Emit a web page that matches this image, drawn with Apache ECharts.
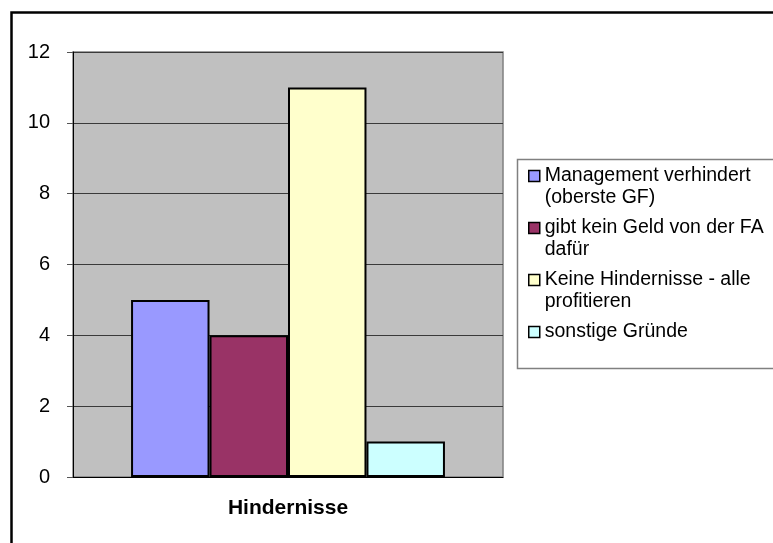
<!DOCTYPE html>
<html>
<head>
<meta charset="utf-8">
<script src="https://cdn.jsdelivr.net/npm/echarts@6/dist/echarts.min.js"></script>
<style>html,body{margin:0;padding:0;background:#fff}#c{width:773px;height:543px}</style>
</head>
<body>
<div id="c"></div>
<script>
const categories = ['Hindernisse'];
const seriesNames = ['Management verhindert (oberste GF)', 'gibt kein Geld von der FA dafür', 'Keine Hindernisse - alle profitieren', 'sonstige Gründe'];
const legendLabels = ['Management verhindert\n(oberste GF)', 'gibt kein Geld von der FA\ndafür', 'Keine Hindernisse - alle\nprofitieren', 'sonstige Gründe'];
const seriesValues = [[5], [4], [11], [1]];
const seriesColors = ['#9999FF', '#993366', '#FFFFCC', '#CCFFFF'];
const yTicks = [0, 2, 4, 6, 8, 10, 12];

const FONT = 'Liberation Sans, Arial, sans-serif';
const chart = echarts.init(document.getElementById('c'));
const labelMap = {};
// pad each legend label to three lines so the first text line sits beside the icon
seriesNames.forEach((n, i) => {
  const lbl = legendLabels[i];
  labelMap[n] = lbl.indexOf('\n') >= 0 ? ' \n' + lbl : ' \n' + lbl + '\n ';
});

chart.setOption({
  animation: false,
  textStyle: { fontFamily: FONT },
  graphic: [
    { type: 'rect', z: 0, shape: { x: 11.5, y: 12.5, width: 800, height: 600 }, style: { fill: 'none', stroke: '#000', lineWidth: 2.5 } },
    { type: 'rect', z: 0, shape: { x: 517.5, y: 159.5, width: 300, height: 209 }, style: { fill: '#fff', stroke: '#808080', lineWidth: 1.5 } }
  ],
  grid: {
    left: 73, top: 52, right: 270, bottom: 66,
    show: true, backgroundColor: '#C0C0C0', borderColor: '#808080', borderWidth: 1.5
  },
  legend: {
    orient: 'vertical', left: 528, top: 143, padding: 0,
    itemWidth: 11, itemHeight: 11, itemGap: -14,
    icon: 'rect',
    itemStyle: { borderWidth: 1.5, borderColor: '#000' },
    textStyle: { fontFamily: FONT, fontSize: 19.5, color: '#000', lineHeight: 22 },
    formatter: n => labelMap[n],
    data: seriesNames
  },
  xAxis: {
    type: 'category', data: categories,
    axisLine: { lineStyle: { color: '#000', width: 1 } },
    axisTick: { show: false },
    axisLabel: { fontFamily: FONT, fontSize: 21, fontWeight: 'bold', color: '#000', margin: 21 }
  },
  yAxis: {
    type: 'value', min: yTicks[0], max: yTicks[yTicks.length - 1], interval: 2,
    axisLine: { show: true, lineStyle: { color: '#000', width: 1 } },
    axisTick: { show: true, inside: false, length: 6, lineStyle: { color: '#555' } },
    axisLabel: { fontFamily: FONT, fontSize: 20, color: '#000', margin: 23 },
    splitLine: { show: true, lineStyle: { color: '#3a3a3a', width: 1 } }
  },
  series: seriesNames.map((n, i) => ({
    name: n, type: 'bar', data: seriesValues[i],
    barGap: '0%', barCategoryGap: '27%',
    itemStyle: { color: seriesColors[i], borderColor: '#000', borderWidth: 2 }
  }))
});
</script>
</body>
</html>
